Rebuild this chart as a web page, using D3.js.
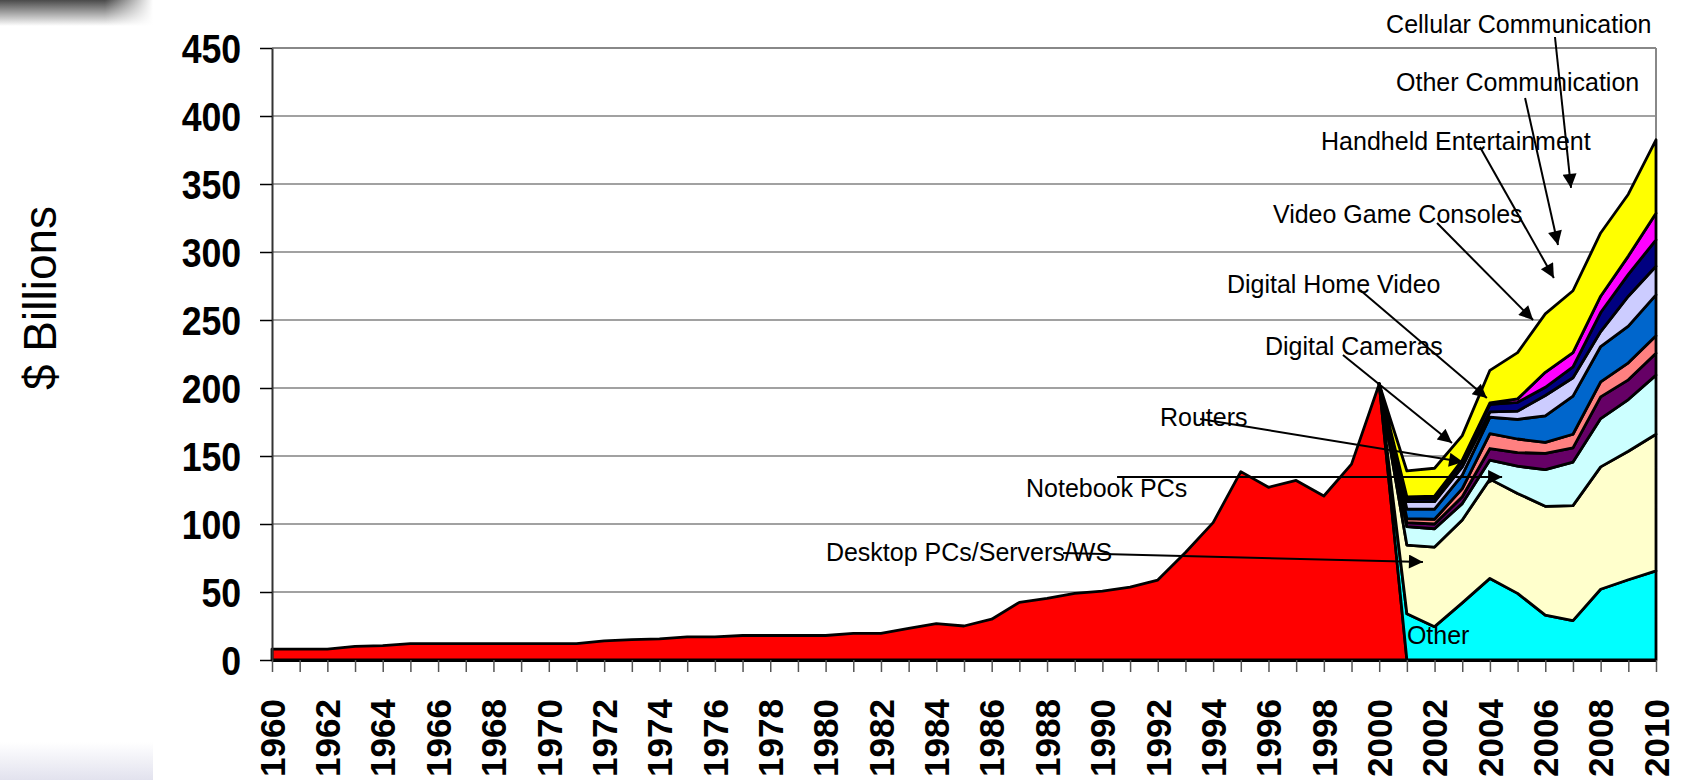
<!DOCTYPE html>
<html>
<head>
<meta charset="utf-8">
<script src="https://cdn.jsdelivr.net/npm/d3@7"></script>
<style>
  body { margin: 0; background: #fff; }
  svg { display: block; font-family: "Liberation Sans", Arial, sans-serif; }
</style>
</head>
<body>
<div id="chart"></div>
<script>

//data
var years = d3.range(1960, 2011);
var yTicks = [0, 50, 100, 150, 200, 250, 300, 350, 400, 450];

//historical total 1960-2000
var historyYears = d3.range(1960, 2001);
var historyValues = [8, 8, 8, 10, 10.5, 12, 12, 12, 12, 12, 12, 12, 14, 15, 15.5, 17, 17, 18, 18, 18,
                     18, 19.6, 19.6, 23.3, 26.7, 25, 30, 42.4, 45.3, 49, 50.7, 53.6, 58.8, 79, 101, 138.5,
                     127, 132, 120.6, 144, 203];

//segments 2001-2010
var forecastYears = d3.range(2001, 2011);
var otherValues     = [34, 24.5, 42, 60, 49, 33, 29, 52, 59, 65.5];
var desktopValues   = [50.5, 58.5, 61, 73, 73.5, 80, 84.5, 90, 94.5, 100.5];
var notebookValues  = [13.5, 13.5, 12, 14, 20, 27, 32, 35.5, 38, 43.5];
var routerValues    = [3, 3.5, 5, 8.5, 10, 12, 10.5, 16, 14.5, 16];
var cameraValues    = [3, 3.5, 6, 11, 10, 8, 10, 11, 12.5, 13];
var homeVideoValues = [7, 7.5, 10, 12, 14.5, 19.5, 28, 26, 27, 30];
var consoleValues   = [5.5, 5.5, 6, 4, 6, 15, 13.5, 11, 22, 21];
var handheldValues  = [2, 2.5, 4, 5.5, 6.5, 6, 8, 14, 16, 19.5];
var otherCommValues = [1.5, 1.5, 1, 1, 2.5, 11, 10.5, 12, 13.5, 19.5];
var cellularValues  = [19, 20.5, 18, 24, 34, 43, 45.5, 46.5, 45.5, 54];

var seriesNames = ["Other", "Desktop PCs/Servers/WS", "Notebook PCs", "Routers", "Digital Cameras",
                   "Digital Home Video", "Video Game Consoles", "Handheld Entertainment",
                   "Other Communication", "Cellular Communication"];
var seriesValues = [otherValues, desktopValues, notebookValues, routerValues, cameraValues,
                    homeVideoValues, consoleValues, handheldValues, otherCommValues, cellularValues];

//colours, bottom to top
var historyColor = "#FF0000";
var seriesColors = ["#00FFFF", "#FFFFCC", "#CCFFFF", "#660066", "#FF8080",
                    "#0066CC", "#CCCCFF", "#000080", "#FF00FF", "#FFFF00"];

//callouts, in chart units (year, $B)
var annotations = [
  {label: "Cellular Communication", at: [2000.25, 461], from: [2006.35, 458.1], to: [2006.93, 347.1]},
  {label: "Other Communication",    at: [2000.61, 418.4], from: [2005.27, 413.2], to: [2006.46, 305.1]},
  {label: "Handheld Entertainment", at: [1997.9, 375], from: [2003.64, 377.2], to: [2006.31, 280.9]},
  {label: "Video Game Consoles",    at: [1996.16, 321.3], from: [2002.09, 321.3], to: [2005.56, 250]},
  {label: "Digital Home Video",     at: [1994.5, 269.9], from: [1999.31, 272.1], to: [2003.89, 192.6]},
  {label: "Digital Cameras",        at: [1995.87, 224.3], from: [1998.69, 224.3], to: [2002.63, 159.6]},
  {label: "Routers",                at: [1992.08, 172.1], from: [1993.53, 177.2], to: [2003.03, 145.6]},
  {label: "Notebook PCs",           at: [1987.24, 119.9], from: [1990.53, 134.6], to: [2004.44, 134.6]},
  {label: "Desktop PCs/Servers/WS", at: [1980.01, 72.8], from: [1988.58, 78.7], to: [2001.58, 72.1]},
  {label: "Other",                  at: [2001.0, 11.8]}
];


//set margins
var W = 1691, H = 780;
var margin = {top: 48, right: 35, bottom: 120, left: 272};
var width = W - margin.left - margin.right;
var height = H - margin.top - margin.bottom;

//build table
var keys = ["history"].concat(seriesNames);
var rows = years.map(function(yr) {
  var row = {year: yr};
  var hi = historyYears.indexOf(yr);
  row.history = hi >= 0 ? historyValues[hi] : 0;
  var fi = forecastYears.indexOf(yr);
  seriesNames.forEach(function(name, i) {
    row[name] = fi >= 0 ? seriesValues[i][fi] : 0;
  });
  return row;
});

var stacked = d3.stack().keys(keys)(rows);

//scales
var xScale = d3.scaleLinear().domain([1960, 2010]).range([0, width]);
var yScale = d3.scaleLinear().domain([0, 450]).range([height, 0]);

var svg = d3.select("#chart").append("svg")
    .attr("width", W)
    .attr("height", H);

//slide decoration
var defs = svg.append("defs");
var g1 = defs.append("linearGradient").attr("id", "topShade").attr("x1", 0).attr("y1", 0).attr("x2", 0).attr("y2", 1);
g1.append("stop").attr("offset", "0%").attr("stop-color", "#4a4a4a");
g1.append("stop").attr("offset", "100%").attr("stop-color", "#ffffff");
var g3 = defs.append("linearGradient").attr("id", "topFade").attr("x1", 0).attr("y1", 0).attr("x2", 1).attr("y2", 0);
g3.append("stop").attr("offset", "0%").attr("stop-color", "#fff").attr("stop-opacity", 0);
g3.append("stop").attr("offset", "100%").attr("stop-color", "#fff").attr("stop-opacity", 1);
var g2 = defs.append("linearGradient").attr("id", "botShade").attr("x1", 0).attr("y1", 0).attr("x2", 0).attr("y2", 1);
g2.append("stop").attr("offset", "0%").attr("stop-color", "#ffffff");
g2.append("stop").attr("offset", "100%").attr("stop-color", "#e2e2ee");

svg.append("rect").attr("x", 0).attr("y", 0).attr("width", 153).attr("height", 26).style("fill", "url(#topShade)");
svg.append("rect").attr("x", 105).attr("y", 0).attr("width", 48).attr("height", 26).style("fill", "url(#topFade)");
svg.append("rect").attr("x", 0).attr("y", 742).attr("width", 153).attr("height", 38).style("fill", "url(#botShade)");

defs.append("marker")
    .attr("id", "arrow")
    .attr("viewBox", "0 0 10 10")
    .attr("refX", 10).attr("refY", 5)
    .attr("markerWidth", 17).attr("markerHeight", 14)
    .attr("markerUnits", "userSpaceOnUse")
    .attr("orient", "auto")
  .append("path")
    .attr("d", "M0,0L10,5L0,10Z")
    .style("fill", "#000");

var g = svg.append("g")
    .attr("transform", "translate(" + margin.left + "," + margin.top + ")");

//gridlines
g.selectAll(".grid")
  .data(yTicks.filter(function(t) { return t > 0; }))
  .enter().append("line")
    .attr("x1", 0).attr("x2", width)
    .attr("y1", function(d) { return yScale(d); })
    .attr("y2", function(d) { return yScale(d); })
    .style("stroke", function(d) { return d == 450 ? "#888" : "#444"; })
    .style("stroke-width", function(d) { return d == 450 ? 2 : 1.2; });

//right border
g.append("line")
    .attr("x1", width).attr("x2", width)
    .attr("y1", 0).attr("y2", height)
    .style("stroke", "#888").style("stroke-width", 2);

//areas
var colors = [historyColor].concat(seriesColors);

g.selectAll(".layer")
  .data(stacked)
  .enter().append("path")
    .attr("class", "layer")
    .attr("d", function(layer, i) {
      var area = d3.area()
          .defined(function(d) {
            return i == 0 ? d.data.year <= 2001 : d.data.year >= 2000;
          })
          .x(function(d) { return xScale(d.data.year); })
          .y0(function(d) { return yScale(d[0]); })
          .y1(function(d) { return yScale(d[1]); });
      return area(layer);
    })
    .style("fill", function(d, i) { return colors[i]; })
    .style("stroke", "#000")
    .style("stroke-width", 2.8)
    .style("stroke-linejoin", "round");

//x axis
var xAxis = d3.axisBottom(xScale)
    .tickValues(years)
    .tickSizeInner(12)
    .tickSizeOuter(0)
    .tickFormat(function(d) { return d % 2 == 0 ? d : ""; });

var xg = g.append("g")
    .attr("transform", "translate(0," + height + ")")
    .call(xAxis);

xg.select(".domain").style("stroke", "#000").style("stroke-width", 3);
xg.selectAll(".tick line").style("stroke", "#555").style("stroke-width", 1.5);
xg.selectAll("text")
    .attr("transform", "rotate(-90)")
    .attr("x", -39)
    .attr("y", 0)
    .attr("dy", "0.35em")
    .style("text-anchor", "end")
    .style("font-family", "'Liberation Sans', Arial, sans-serif")
    .style("font-size", "35px")
    .style("font-weight", "bold")
    .style("fill", "#000");

//y axis
var yAxis = d3.axisLeft(yScale)
    .tickValues(yTicks)
    .tickSizeInner(12)
    .tickSizeOuter(0);

var yg = g.append("g").call(yAxis);

yg.select(".domain").style("stroke", "#333").style("stroke-width", 2);
yg.selectAll(".tick line").style("stroke", "#000").style("stroke-width", 1.5);
yg.selectAll("text")
    .attr("x", -35.5)
    .attr("dy", "0.36em")
    .attr("transform", "scale(0.87,1)")
    .style("font-family", "'Liberation Sans', Arial, sans-serif")
    .style("font-size", "41px")
    .style("font-weight", "bold")
    .style("fill", "#000");

//y axis label
svg.append("text")
    .attr("transform", "translate(56,298) rotate(-90)")
    .style("text-anchor", "middle")
    .style("font-size", "46px")
    .text("$ Billions");

//callouts
var notes = g.selectAll(".note")
  .data(annotations)
  .enter().append("g")
    .attr("class", "note");

notes.append("text")
    .attr("x", function(d) { return xScale(d.at[0]); })
    .attr("y", function(d) { return yScale(d.at[1]); })
    .style("font-size", "25px")
    .style("fill", "#000")
    .text(function(d) { return d.label; });

notes.filter(function(d) { return d.from; })
  .append("line")
    .attr("x1", function(d) { return xScale(d.from[0]); })
    .attr("y1", function(d) { return yScale(d.from[1]); })
    .attr("x2", function(d) { return xScale(d.to[0]); })
    .attr("y2", function(d) { return yScale(d.to[1]); })
    .style("stroke", "#000")
    .style("stroke-width", 2)
    .attr("marker-end", "url(#arrow)");

</script>
</body>
</html>
